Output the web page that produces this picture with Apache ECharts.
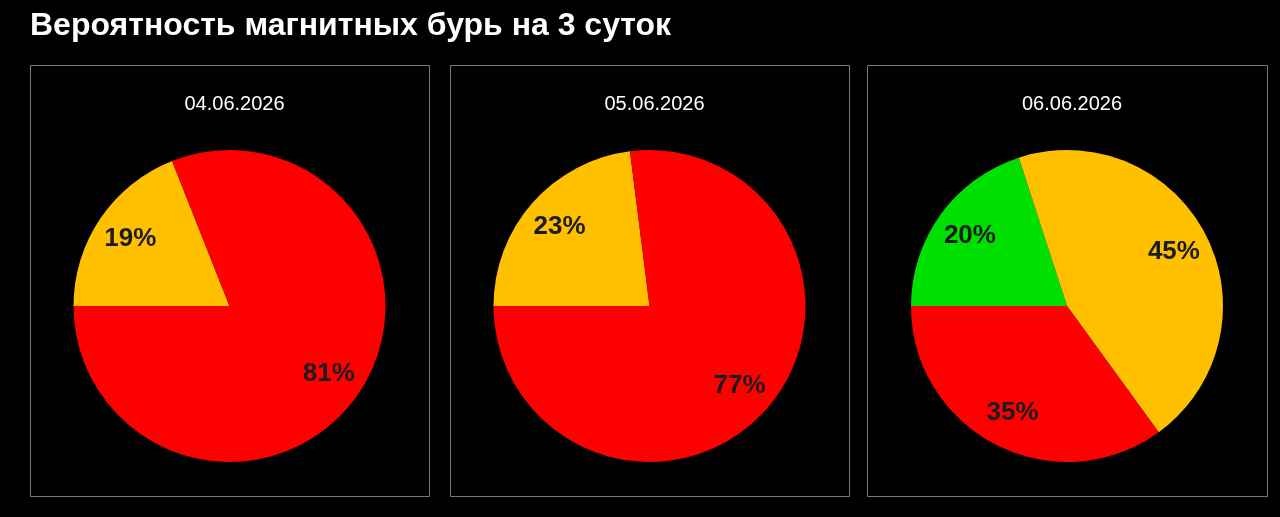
<!DOCTYPE html>
<html>
<head>
<meta charset="utf-8">
<script src="https://cdn.jsdelivr.net/npm/echarts@6/dist/echarts.min.js"></script>
<style>
html,body{margin:0;padding:0;background:#000;}
#chart{width:1280px;height:517px;}
</style>
</head>
<body>
<div id="chart"></div>
<script>
const chartTitle = 'Вероятность магнитных бурь на 3 суток';
const dates = ['04.06.2026', '05.06.2026', '06.06.2026'];
const day1Names = ['yellow', 'red'];
const day1Values = [19, 81];
const day2Names = ['yellow', 'red'];
const day2Values = [23, 77];
const day3Names = ['green', 'yellow', 'red'];
const day3Values = [20, 45, 35];

const COLORS = { green: '#00E000', yellow: '#FFC000', red: '#FF0000' };
const panels = [
  { x: 30, w: 399 },
  { x: 450, w: 399 },
  { x: 867, w: 400 }
];
const PANEL_Y = 65, PANEL_H = 431;
const PIE_CY = 306, PIE_R = 156;
const dayData = [
  [day1Names, day1Values],
  [day2Names, day2Values],
  [day3Names, day3Values]
];

const chart = echarts.init(document.getElementById('chart'));
const series = [];
dayData.forEach(([names, values], i) => {
  const cx = panels[i].x + panels[i].w / 2;
  const data = names.map((n, k) => ({ name: n, value: values[k], itemStyle: { color: COLORS[n] } }));
  series.push({
    type: 'pie',
    center: [cx, PIE_CY],
    radius: [0, PIE_R],
    startAngle: 180,
    clockwise: true,
    silent: true,
    animation: false,
    label: { show: false },
    labelLine: { show: false },
    itemStyle: { borderWidth: 0 },
    data: data
  });
  series.push({
    type: 'pie',
    center: [cx, PIE_CY],
    radius: [PIE_R * 0.5, PIE_R],
    startAngle: 180,
    clockwise: true,
    silent: true,
    animation: false,
    z: 3,
    itemStyle: { color: 'transparent', borderWidth: 0 },
    label: {
      show: true,
      position: 'inside',
      formatter: '{c}%',
      color: '#1c1c1c',
      fontFamily: 'Liberation Sans, Arial, sans-serif',
      fontWeight: 'bold',
      fontSize: 26
    },
    labelLine: { show: false },
    data: names.map((n, k) => ({ name: n, value: values[k] }))
  });
});

const graphics = panels.map(p => ({
  type: 'rect',
  shape: { x: p.x + 0.5, y: PANEL_Y + 0.5, width: p.w, height: PANEL_H },
  style: { fill: 'none', stroke: '#777777', lineWidth: 1 },
  silent: true
}));

const titles = [{
  text: chartTitle,
  left: 30,
  top: 10,
  padding: 0,
  textStyle: { color: '#ffffff', fontFamily: 'Liberation Sans, Arial, sans-serif', fontWeight: 'bold', fontSize: 32 }
}];
dates.forEach((d, i) => {
  titles.push({
    text: d,
    left: panels[i].x + panels[i].w / 2,
    top: 89,
    textAlign: 'center',
    textStyle: { color: '#ffffff', fontFamily: 'Liberation Sans, Arial, sans-serif', fontWeight: 'normal', fontSize: 20 }
  });
});

chart.setOption({
  backgroundColor: '#000000',
  animation: false,
  title: titles,
  graphic: graphics,
  series: series
});
</script>
</body>
</html>
